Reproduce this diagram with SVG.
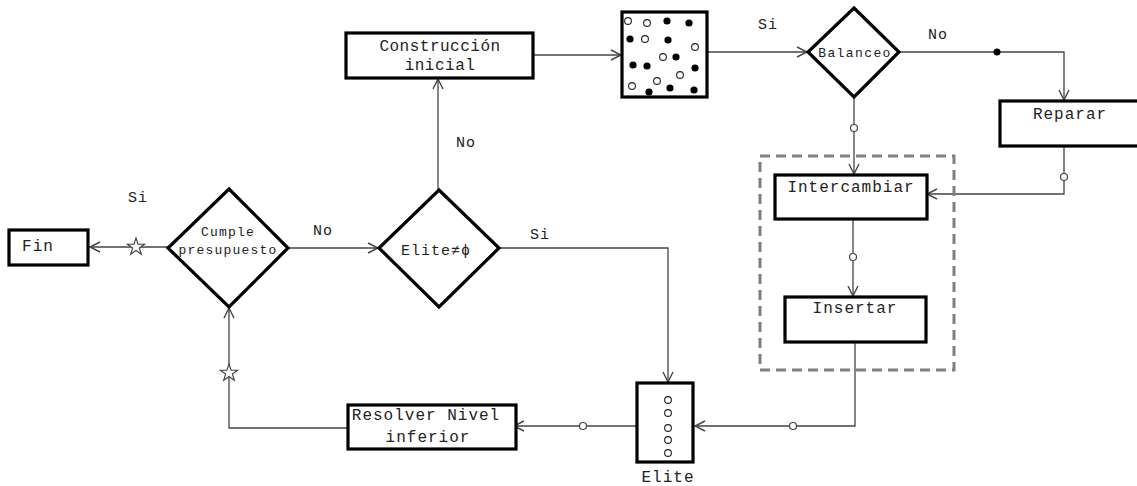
<svg xmlns="http://www.w3.org/2000/svg" width="1137" height="486" viewBox="0 0 1137 486">
<style>
.box{fill:#fff;stroke:#000;stroke-width:3.2}
.dia{fill:#fff;stroke:#000;stroke-width:3.2;stroke-linejoin:miter}
.t{font-family:"Liberation Mono","Courier New",monospace;font-size:16px;letter-spacing:1px;fill:#222;text-anchor:middle}
.s{font-size:13px;letter-spacing:1.2px}
.lab{font-family:"Liberation Mono","Courier New",monospace;font-size:15px;letter-spacing:1px;fill:#222;text-anchor:middle}
.c{fill:none;stroke:#444;stroke-width:1.3}
.oc{fill:#fff;stroke:#444;stroke-width:1.2}
.fd{fill:#000}
.od{fill:#fff;stroke:#222;stroke-width:1.1}
.star{fill:#fff;stroke:#444;stroke-width:1.2}
</style>
<defs>
<marker id="ar" markerUnits="userSpaceOnUse" markerWidth="12" markerHeight="12" refX="10" refY="5" orient="auto" overflow="visible">
<path d="M0,0 L10,5 L0,10" fill="none" stroke="#444" stroke-width="1.4"/>
</marker>
<path id="st" d="M0,-9 L2.1,-2.9 L8.6,-2.8 L3.4,1.1 L5.3,7.3 L0,3.6 L-5.3,7.3 L-3.4,1.1 L-8.6,-2.8 L-2.1,-2.9 Z"/>
</defs>

<g id="connectors">
<line class="c" x1="168" y1="247" x2="90" y2="247" marker-end="url(#ar)"/>
<line class="c" x1="288" y1="248" x2="378" y2="248" marker-end="url(#ar)"/>
<line class="c" x1="438" y1="190" x2="438" y2="79" marker-end="url(#ar)"/>
<line class="c" x1="533" y1="55" x2="621" y2="55" marker-end="url(#ar)"/>
<line class="c" x1="707" y1="52" x2="807" y2="52" marker-end="url(#ar)"/>
<polyline class="c" points="899,52 1064,52 1064,100" marker-end="url(#ar)"/>
<polyline class="c" points="1064,146 1064,194 927,194" marker-end="url(#ar)"/>
<line class="c" x1="854" y1="97" x2="854" y2="174" marker-end="url(#ar)"/>
<line class="c" x1="853" y1="219" x2="853" y2="296" marker-end="url(#ar)"/>
<polyline class="c" points="855,342 855,426 695,426" marker-end="url(#ar)"/>
<polyline class="c" points="499,248 668,248 668,382" marker-end="url(#ar)"/>
<line class="c" x1="637" y1="426" x2="514" y2="426" marker-end="url(#ar)"/>
<polyline class="c" points="348,428 229,428 229,308" marker-end="url(#ar)"/>
<circle class="fd" cx="997" cy="52" r="3.5"/>
<circle class="oc" cx="1064" cy="177" r="3.5"/>
<circle class="oc" cx="854" cy="128" r="3.5"/>
<circle class="oc" cx="853" cy="257" r="3.5"/>
<circle class="oc" cx="793" cy="426" r="3.5"/>
<circle class="oc" cx="583" cy="426" r="3.5"/>
<use href="#st" class="star" x="136" y="247"/>
<use href="#st" class="star" x="229" y="373"/>
<text class="lab" x="138" y="202">Si</text>
<text class="lab" x="323" y="235">No</text>
<text class="lab" x="466" y="147">No</text>
<text class="lab" x="540" y="239">Si</text>
<text class="lab" x="768" y="29">Si</text>
<text class="lab" x="938" y="39">No</text>
</g>

<g id="group-dashed">
<rect x="760" y="156" width="194" height="214" fill="none" stroke="#808080" stroke-width="3" stroke-dasharray="10,6"/>
</g>

<g id="fin">
<rect class="box" x="9" y="230" width="79" height="35"/>
<text class="t" x="38" y="251">Fin</text>
</g>

<g id="cumple">
<polygon class="dia" points="229,189 288,248 229,307 168,248"/>
<text class="t s" x="228" y="236">Cumple</text>
<text class="t s" x="228" y="254">presupuesto</text>
</g>

<g id="elite-check">
<polygon class="dia" points="439,190 499,248 439,307 379,248"/>
<text class="t" x="436" y="255" style="font-size:15px">Elite≠ϕ</text>
</g>

<g id="construccion">
<rect class="box" x="346" y="33" width="187" height="45"/>
<text class="t" x="440" y="51" style="letter-spacing:0.5px">Construcción</text>
<text class="t" x="440" y="70" style="letter-spacing:0.5px">inicial</text>
</g>

<g id="poblacion">
<rect class="box" x="622" y="12" width="85" height="85"/>
<g class="fd">
<circle cx="667" cy="21" r="3.6"/><circle cx="689" cy="23" r="3.6"/><circle cx="630" cy="39" r="3.6"/>
<circle cx="668" cy="40" r="3.6"/><circle cx="676" cy="57" r="3.6"/><circle cx="633" cy="65" r="3.6"/>
<circle cx="647" cy="66" r="3.6"/><circle cx="695" cy="68" r="3.6"/><circle cx="649" cy="92" r="3.6"/>
<circle cx="670" cy="88" r="3.6"/><circle cx="694" cy="90" r="3.6"/>
</g>
<g class="od">
<circle cx="628" cy="21" r="3.4"/><circle cx="647" cy="23" r="3.4"/><circle cx="645" cy="39" r="3.4"/>
<circle cx="695" cy="47" r="3.4"/><circle cx="663" cy="57" r="3.4"/><circle cx="680" cy="75" r="3.4"/>
<circle cx="657" cy="81" r="3.4"/><circle cx="632" cy="86" r="3.4"/>
</g>
</g>

<g id="balanceo">
<polygon class="dia" points="854,8 899,52 854,97 808,52"/>
<text class="t" x="855" y="57" style="font-size:13px;letter-spacing:1.4px">Balanceo</text>
</g>

<g id="reparar">
<rect class="box" x="1000" y="101" width="145" height="45"/>
<text class="t" x="1070" y="119">Reparar</text>
</g>

<g id="intercambiar">
<rect class="box" x="775" y="175" width="152" height="44"/>
<text class="t" x="851" y="192">Intercambiar</text>
</g>

<g id="insertar">
<rect class="box" x="785" y="297" width="141" height="45"/>
<text class="t" x="855" y="313">Insertar</text>
</g>

<g id="elite">
<rect class="box" x="637" y="383" width="56" height="79"/>
<g class="od">
<circle cx="668" cy="400" r="3.4"/><circle cx="668" cy="413" r="3.4"/><circle cx="668" cy="428" r="3.4"/>
<circle cx="668" cy="440" r="3.4"/><circle cx="668" cy="453" r="3.4"/>
</g>
<text class="t" x="668" y="482">Elite</text>
</g>

<g id="resolver">
<rect class="box" x="348" y="405" width="168" height="44"/>
<text class="t" x="426" y="420">Resolver Nivel</text>
<text class="t" x="428" y="442">inferior</text>
</g>
</svg>
